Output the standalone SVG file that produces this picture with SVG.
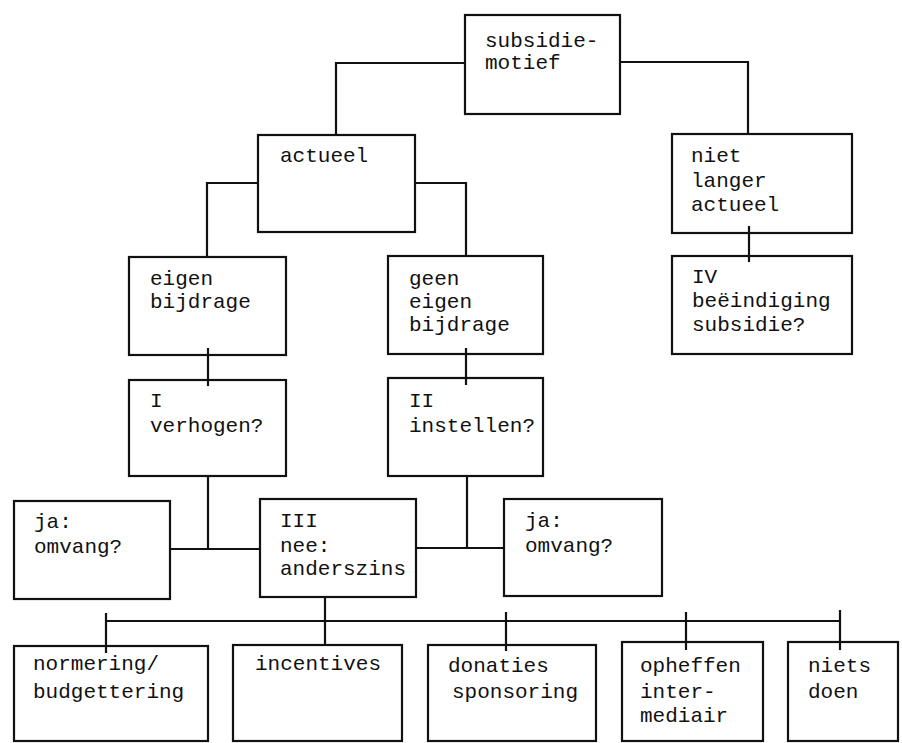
<svg xmlns="http://www.w3.org/2000/svg" width="902" height="743" viewBox="0 0 902 743">
<style>
.box{fill:none;stroke:#111;stroke-width:2.2}
.ln{fill:none;stroke:#111;stroke-width:2.2}
text{font-family:"Liberation Mono","DejaVu Sans Mono",monospace;font-size:21px;fill:#111}
</style>
<rect width="902" height="743" fill="#fff"/>
<g id="connectors">
<path class="ln" d="M465,63 H336 V135"/>
<path class="ln" d="M620,62 H748 V134"/>
<path class="ln" d="M258,183 H207 V257"/>
<path class="ln" d="M415,183 H466 V256"/>
<path class="ln" d="M749,226 V262"/>
<path class="ln" d="M208,348 V386"/>
<path class="ln" d="M466,348 V385"/>
<path class="ln" d="M208,476 V549 M170,549 H260"/>
<path class="ln" d="M467,476 V548 M416,548 H504"/>
<path class="ln" d="M325,597 V645"/>
<path class="ln" d="M106,621 H840"/>
<path class="ln" d="M106,613 V653 M506,612 V651 M686,612 V650 M840,610 V650"/>
</g>
<g id="n-subsidiemotief"><rect class="box" x="465" y="15" width="155" height="99"/><text x="485" y="47">subsidie-</text><text x="485" y="69">motief</text></g>
<g id="n-actueel"><rect class="box" x="258" y="135" width="157" height="97"/><text x="280" y="162">actueel</text></g>
<g id="n-nietlanger"><rect class="box" x="672" y="134" width="180" height="99"/><text x="691" y="162">niet</text><text x="691" y="187">langer</text><text x="691" y="211">actueel</text></g>
<g id="n-IV"><rect class="box" x="672" y="256" width="180" height="98"/><text x="692" y="283">IV</text><text x="692" y="307">beëindiging</text><text x="692" y="331">subsidie?</text></g>
<g id="n-eigen"><rect class="box" x="129" y="257" width="157" height="98"/><text x="150" y="285">eigen</text><text x="150" y="308">bijdrage</text></g>
<g id="n-geen"><rect class="box" x="388" y="256" width="155" height="98"/><text x="409" y="285">geen</text><text x="409" y="308">eigen</text><text x="409" y="331">bijdrage</text></g>
<g id="n-I"><rect class="box" x="129" y="380" width="157" height="96"/><text x="150" y="407">I</text><text x="150" y="432">verhogen?</text></g>
<g id="n-II"><rect class="box" x="388" y="378" width="155" height="98"/><text x="409" y="407">II</text><text x="409" y="432">instellen?</text></g>
<g id="n-ja1"><rect class="box" x="14" y="501" width="156" height="98"/><text x="34" y="528">ja:</text><text x="34" y="553">omvang?</text></g>
<g id="n-III"><rect class="box" x="260" y="499" width="156" height="98"/><text x="280" y="527">III</text><text x="280" y="552">nee:</text><text x="280" y="575">anderszins</text></g>
<g id="n-ja2"><rect class="box" x="504" y="499" width="158" height="97"/><text x="525" y="527">ja:</text><text x="525" y="552">omvang?</text></g>
<g id="n-normering"><rect class="box" x="14" y="646" width="194" height="95"/><text x="33" y="670">normering/</text><text x="33" y="698">budgettering</text></g>
<g id="n-incentives"><rect class="box" x="233" y="645" width="169" height="96"/><text x="255" y="670">incentives</text></g>
<g id="n-donaties"><rect class="box" x="428" y="645" width="168" height="96"/><text x="448" y="672">donaties</text><text x="452" y="698">sponsoring</text></g>
<g id="n-opheffen"><rect class="box" x="622" y="642" width="141" height="99"/><text x="640" y="672">opheffen</text><text x="640" y="698">inter-</text><text x="640" y="722">mediair</text></g>
<g id="n-niets"><rect class="box" x="788" y="642" width="110" height="99"/><text x="808" y="672">niets</text><text x="808" y="698">doen</text></g>
</svg>
